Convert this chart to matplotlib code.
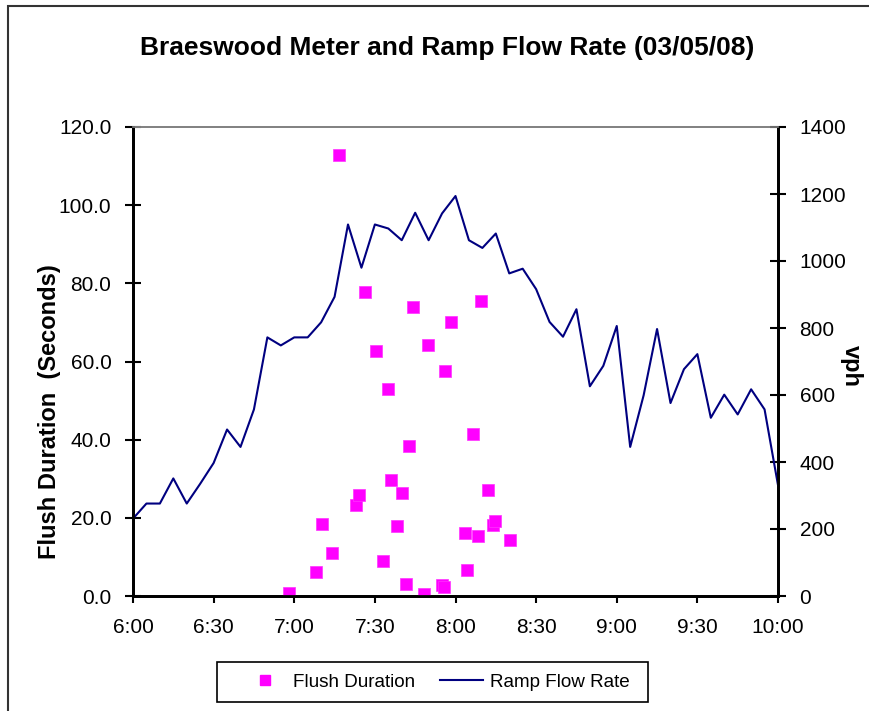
import matplotlib
matplotlib.use('Agg')
import matplotlib.pyplot as plt
from matplotlib.lines import Line2D
from matplotlib.patches import Rectangle

plt.rcParams['font.family'] = ['Liberation Sans', 'DejaVu Sans']

# ---- data ----
ramp_times = ["6:00", "6:05", "6:10", "6:15", "6:20", "6:25", "6:30", "6:35", "6:40", "6:45",
              "6:50", "6:55", "7:00", "7:05", "7:10", "7:15", "7:20", "7:25", "7:30", "7:35",
              "7:40", "7:45", "7:50", "7:55", "8:00", "8:05", "8:10", "8:15", "8:20", "8:25",
              "8:30", "8:35", "8:40", "8:45", "8:50", "8:55", "9:00", "9:05", "9:10", "9:15",
              "9:20", "9:25", "9:30", "9:35", "9:40", "9:45", "9:50", "9:55", "10:00"]
ramp_flow = [231, 276, 276, 351, 276, 335, 397, 497, 445, 557,
             772, 748, 772, 772, 817, 893, 1109, 980, 1109, 1097,
             1062, 1144, 1062, 1142, 1194, 1062, 1039, 1082, 963, 977,
             916, 818, 774, 856, 626, 687, 806, 445, 599, 797,
             576, 677, 722, 532, 601, 542, 617, 557, 331]

# flush events: minutes after 6:00 and duration (s)
flush_minutes = [57.9, 68.2, 70.3, 74.1, 76.6, 82.9, 84.1, 86.3, 90.6, 92.9,
                 94.7, 96.0, 98.4, 100.0, 101.5, 102.8, 104.0, 108.1, 109.6, 114.8,
                 115.7, 116.2, 118.4, 123.5, 124.3, 126.6, 128.4, 129.5, 132.1, 133.8,
                 134.7, 140.3]
flush_duration = [0.8, 6.1, 18.5, 10.9, 112.8, 23.2, 25.8, 77.7, 62.7, 9.0,
                  53.0, 29.8, 17.9, 26.4, 3.0, 38.4, 73.9, 0.6, 64.3, 2.9,
                  2.3, 57.5, 70.2, 16.1, 6.6, 41.4, 15.3, 75.4, 27.2, 18.1,
                  19.2, 14.4]

x_tick_labels = ["6:00", "6:30", "7:00", "7:30", "8:00", "8:30", "9:00", "9:30", "10:00"]
left_ticks = [0, 20, 40, 60, 80, 100, 120]
right_ticks = [0, 200, 400, 600, 800, 1000, 1200, 1400]


def to_hours(s):
    h, m = s.split(":")
    return int(h) + int(m) / 60.0


ramp_x = [to_hours(t) for t in ramp_times]
flush_x = [6 + m / 60.0 for m in flush_minutes]
x_ticks = [to_hours(t) for t in x_tick_labels]

W, H = 870, 711
fig = plt.figure(figsize=(W / 100, H / 100), dpi=100)
fig.patch.set_facecolor('white')

# outer chart border (cut on right and bottom in the reference)
fig.patches.append(Rectangle((8.5 / W, -0.1), 2.0, (H - 6) / H + 0.1,
                             transform=fig.transFigure, fill=False,
                             edgecolor='#333333', linewidth=1.5))

L, R, T, B = 133, 778, 127, 596
ax = fig.add_axes([L / W, 1 - B / H, (R - L) / W, (B - T) / H])
ax2 = ax.twinx()

ax.scatter(flush_x, flush_duration, marker='s', s=80, color='#FF00FF',
           edgecolors='#FF33FF', linewidths=0.5, zorder=3)
ax2.plot(ramp_x, ramp_flow, color='#000080', linewidth=1.5, zorder=2)

ax.set_xlim(6, 10)
ax.set_ylim(0, 120)
ax2.set_ylim(0, 1400)

ax.set_xticks(x_ticks)
ax.set_xticklabels(x_tick_labels)
ax.set_yticks(left_ticks)
ax.set_yticklabels([f"{v:.1f}" for v in left_ticks])
ax2.set_yticks(right_ticks)
ax2.set_yticklabels([str(v) for v in right_ticks])

ax.tick_params(axis='x', direction='out', length=5, width=1.5, labelsize=15, pad=11)
ax.tick_params(axis='y', direction='inout', length=11, width=1.5, labelsize=15, pad=10)
ax2.tick_params(axis='y', direction='inout', length=11, width=1.5, labelsize=15, pad=10)

for a in (ax, ax2):
    a.spines['top'].set_color('#808080')
    a.spines['top'].set_linewidth(1.2)
    for s in ('left', 'bottom', 'right'):
        a.spines[s].set_color('black')
        a.spines[s].set_linewidth(2)
ax.patch.set_alpha(0)

fig.text(447 / W, 1 - 48 / H, "Braeswood Meter and Ramp Flow Rate (03/05/08)",
         ha='center', va='center', fontsize=19, fontweight='bold')
fig.text(50 / W, 1 - 412 / H, "Flush Duration  (Seconds)", rotation=90,
         ha='center', va='center', fontsize=17, fontweight='bold')
fig.text(851 / W, 1 - 366 / H, "vph", rotation=270,
         ha='center', va='center', fontsize=17, fontweight='bold')

# legend: frame drawn as a rectangle, entries placed by the legend
fig.patches.append(Rectangle((217 / W, 1 - 702 / H), (648 - 217) / W, 40 / H,
                             transform=fig.transFigure, fill=False,
                             edgecolor='black', linewidth=1.2))
handles = [Line2D([], [], marker='s', linestyle='none', color='#FF00FF', markersize=7.7),
           Line2D([], [], color='#000080', linewidth=1.5)]
leg = fig.legend(handles, ["Flush Duration", "Ramp Flow Rate"], loc='center left',
                 bbox_to_anchor=(243 / W, 1 - 682 / H), ncol=2, fontsize=13.6,
                 frameon=False, borderpad=0, borderaxespad=0,
                 handlelength=2.3, columnspacing=1.3, handletextpad=0.35)

fig.savefig('out.png', dpi=100)
